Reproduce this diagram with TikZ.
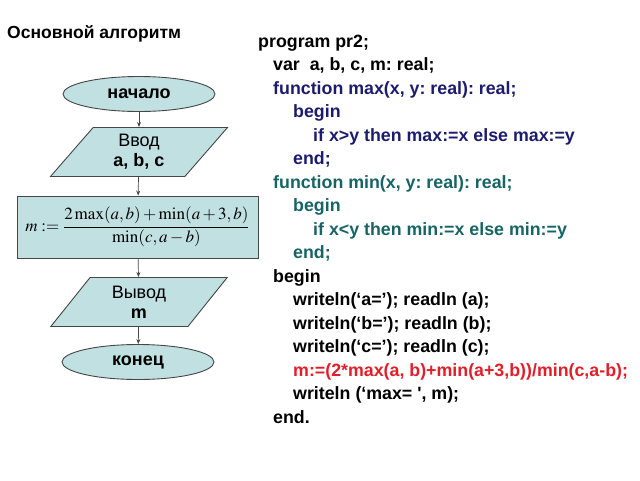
\documentclass[tikz,border=0pt]{standalone}
\usepackage{mathptmx}
\usepackage[no-math]{fontspec}
\setmainfont{Liberation Sans}
\usetikzlibrary{shapes.geometric,arrows.meta}
\frenchspacing
\definecolor{boxfill}{RGB}{192,224,226}
\definecolor{boxline}{RGB}{70,70,70}
\definecolor{navy}{RGB}{28,28,110}
\definecolor{teal2}{RGB}{22,100,100}
\definecolor{codered}{RGB}{226,30,40}
\tikzset{
  x=1pt, y=-1pt,
  term/.style={ellipse, draw=boxline, fill=boxfill, line width=0.9pt, minimum width=152pt, minimum height=35pt, inner sep=0pt, font=\bfseries\fontsize{18}{20}\selectfont},
  io/.style={trapezium, trapezium left angle=56, trapezium right angle=124, trapezium stretches=true, draw=boxline, fill=boxfill, line width=0.9pt, minimum width=178pt, minimum height=49pt, inner sep=0pt, align=center, font=\fontsize{18}{20}\selectfont},
  proc/.style={rectangle, draw=boxline, fill=boxfill, line width=0.9pt, minimum width=241pt, minimum height=62pt, inner sep=0pt},
  flow/.style={-{Stealth[length=5pt,width=4pt]}, line width=0.7pt, draw=boxline},
  code/.style={anchor=base west, inner sep=0pt, font=\bfseries\fontsize{17.8}{20}\selectfont},
}
\begin{document}
\begin{tikzpicture}
\useasboundingbox (0,0) rectangle (640,480);
\node[anchor=base west, inner sep=0pt, font=\bfseries\fontsize{17.5}{20}\selectfont] (title) at (7,38) {Основной алгоритм};

\node[term] (start) at (139,94) {начало};
\node[io] (in) at (139,152) {Ввод\\\textbf{a, b, c}};
\node[proc] (calc) at (137.5,227) {\fontsize{17}{20}\selectfont$\displaystyle m:=\frac{2\max(a,b)+\min(a+3,b)}{\min(c,a-b)}$};
\node[io] (out) at (139,302) {Вывод\\\textbf{m}};
\node[term] (stop) at (138,362) {конец};

\draw[flow] (start) -- (in);
\draw[flow] (in) -- (calc);
\draw[flow] (calc) -- (out);
\draw[flow] (out) -- (stop);

\node[code] (l0) at (258,47) {program pr2;};
\node[code] (l1) at (273,70.5) {var\ \ a, b, c, m: real;};
\node[code, text=navy] (l2) at (273,94) {function max(x, y: real): real;};
\node[code, text=navy] (l3) at (293,117.5) {begin};
\node[code, text=navy] (l4) at (313,141) {if x>y then max:=x else max:=y};
\node[code, text=navy] (l5) at (293,164.5) {end;};
\node[code, text=teal2] (l6) at (273,188) {function min(x, y: real): real;};
\node[code, text=teal2] (l7) at (293,211.5) {begin};
\node[code, text=teal2] (l8) at (313,235) {if x<y then min:=x else min:=y};
\node[code, text=teal2] (l9) at (293,258.5) {end;};
\node[code] (l10) at (273,282) {begin};
\node[code] (l11) at (293,305.5) {writeln(‘a=’); readln (a);};
\node[code] (l12) at (293,329) {writeln(‘b=’); readln (b);};
\node[code] (l13) at (293,352.5) {writeln(‘c=’); readln (c);};
\node[code, text=codered] (l14) at (293,376) {m:=(2*max(a, b)+min(a+3,b))/min(c,a-b);};
\node[code] (l15) at (293,399.5) {writeln (‘max= \textquotesingle, m);};
\node[code] (l16) at (273,423) {end.};
\end{tikzpicture}
\end{document}
